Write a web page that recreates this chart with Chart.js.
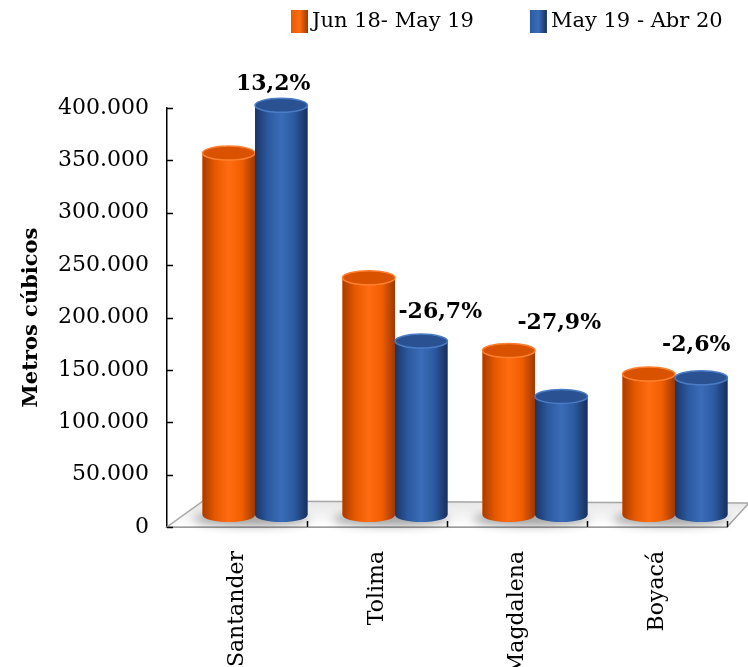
<!DOCTYPE html>
<html>
<head>
<meta charset="utf-8">
<script src="https://cdn.jsdelivr.net/npm/chart.js@4.4.0/dist/chart.umd.min.js"></script>
<style>
html, body { margin: 0; padding: 0; background: #fff; overflow: hidden; }
#wrap { width: 748px; height: 667px; }
</style>
</head>
<body>
<div id="wrap"><canvas id="grafico"></canvas></div>
<script>
const categorias = ['Santander', 'Tolima', 'Magdalena', 'Boyacá']
const serieAnterior = [345500, 226500, 157000, 134500]
const serieActual = [391100, 166000, 113200, 131000]
const variacion = ['13,2%', '-26,7%', '-27,9%', '-2,6%']
const yTicks = [0, 50000, 100000, 150000, 200000, 250000, 300000, 350000, 400000]

// offset of the bars inside the 3D floor
const DX = 18, DY = -12
const FONT = '"DejaVu Serif", serif'
// where each % label sits relative to the blue bar top (px), like the original
const etiquetaDx = [-8, 19, -2, -5]
const etiquetaLift = [10, 18, 62, 21]

const colores = {
  naranja: { solid: '#FF6600', body: ['#A83C00', '#E85A00', '#FF6C12', '#F05E00', '#9E3800'], cap: '#D85200', edge: '#FF8030' },
  azul: { solid: '#2E5DA5', body: ['#1A3566', '#2C5AA0', '#3A6CB8', '#2B5AA0', '#182F5C'], cap: '#2A5293', edge: '#4C7CC6' }
}

const fmt = v => String(v).replace(/\B(?=(\d{3})+(?!\d))/g, '.')

function cilindro(ctx, el, pal){
  const { x, y, base, width } = el.getProps(['x', 'y', 'base', 'width'], true)
  const rx = width / 2, ry = 7
  const l = x - rx, r = x + rx
  const g = ctx.createLinearGradient(l, 0, r, 0)
  pal.body.forEach((c, i) => g.addColorStop(i / (pal.body.length - 1), c))
  ctx.beginPath()
  ctx.moveTo(l, y)
  ctx.lineTo(l, base)
  ctx.ellipse(x, base, rx, ry, 0, Math.PI, 0, true)
  ctx.lineTo(r, y)
  ctx.ellipse(x, y, rx, ry, 0, 0, Math.PI, false)
  ctx.closePath()
  ctx.fillStyle = g
  ctx.fill()
  ctx.beginPath()
  ctx.ellipse(x, y, rx, ry, 0, 0, Math.PI * 2)
  ctx.fillStyle = pal.cap
  ctx.fill()
  ctx.lineWidth = 1.5
  ctx.strokeStyle = pal.edge
  ctx.stroke()
}

const piso3d = {
  id: 'piso3d',
  beforeDatasetsDraw(chart){
    const { ctx, chartArea: a, scales } = chart
    ctx.save()
    // floor
    const g = ctx.createLinearGradient(0, a.bottom - 26, 0, a.bottom)
    g.addColorStop(0, '#e6e6e6')
    g.addColorStop(1, '#ffffff')
    ctx.beginPath()
    ctx.moveTo(a.left, a.bottom)
    ctx.lineTo(a.right, a.bottom)
    ctx.lineTo(a.right + 22, a.bottom - 24)
    ctx.lineTo(a.left + 36, a.bottom - 26)
    ctx.closePath()
    ctx.fillStyle = g
    ctx.fill()
    ctx.strokeStyle = '#a6a6a6'
    ctx.lineWidth = 1.5
    ctx.stroke()
    // shadows
    ctx.filter = 'blur(5px)'
    ctx.fillStyle = 'rgba(0,0,0,0.35)'
    categorias.forEach((c, i) => {
      const cx = scales.x.getPixelForValue(i) + DX
      ctx.beginPath()
      ctx.ellipse(cx - 4, a.bottom + DY + 4, 58, 7, 0, 0, Math.PI * 2)
      ctx.fill()
    })
    ctx.filter = 'none'
    ctx.translate(DX, DY)
  },
  afterDatasetsDraw(chart){
    const { ctx } = chart
    const m0 = chart.getDatasetMeta(0), m1 = chart.getDatasetMeta(1)
    m0.data.forEach(el => cilindro(ctx, el, colores.naranja))
    m1.data.forEach(el => cilindro(ctx, el, colores.azul))
    ctx.fillStyle = '#000'
    ctx.font = 'bold 22px ' + FONT
    ctx.textAlign = 'center'
    ctx.textBaseline = 'bottom'
    m1.data.forEach((el, i) => {
      ctx.fillText(variacion[i], el.x + etiquetaDx[i], el.y - etiquetaLift[i])
    })
    ctx.restore()
  },
  afterDraw(chart){
    const { ctx, chartArea: a, scales } = chart
    ctx.save()
    ctx.strokeStyle = '#000'
    ctx.lineWidth = 1.5
    ctx.beginPath()
    yTicks.forEach(v => {
      const y = Math.round(scales.y.getPixelForValue(v)) + 0.5
      ctx.moveTo(a.left, y)
      ctx.lineTo(a.left + 6, y)
    })
    const n = categorias.length
    for (let k = 1; k <= n; k++){
      const x = Math.round(a.left + k * a.width / n) + 0.5
      ctx.moveTo(x, a.bottom)
      ctx.lineTo(x, a.bottom - 6)
    }
    ctx.stroke()

    // legend at the top right
    ctx.font = '21px ' + FONT
    ctx.textBaseline = 'middle'
    ctx.textAlign = 'left'
    const items = chart.data.datasets.map((d, i) => ({ text: d.label, pal: i === 0 ? colores.naranja : colores.azul }))
    const boxW = 17, gapBox = 4, gapItem = 56
    let x = 291
    items.forEach(it => {
      const g = ctx.createLinearGradient(x, 0, x + boxW, 0)
      g.addColorStop(0, it.pal.body[1])
      g.addColorStop(0.5, it.pal.body[2])
      g.addColorStop(1, it.pal.body[4])
      ctx.fillStyle = g
      ctx.fillRect(x, 10, boxW, 23)
      ctx.fillStyle = '#000'
      ctx.fillText(it.text, x + boxW + gapBox, 22)
      x += boxW + gapBox + ctx.measureText(it.text).width + gapItem
    })
    ctx.restore()
  }
}

new Chart(document.getElementById('grafico'), {
  type: 'bar',
  data: {
    labels: categorias,
    datasets: [
      { label: 'Jun 18- May 19', data: serieAnterior, backgroundColor: colores.naranja.solid, clip: false },
      { label: 'May 19 - Abr 20', data: serieActual, backgroundColor: colores.azul.solid, clip: false }
    ]
  },
  options: {
    responsive: true,
    maintainAspectRatio: false,
    animation: false,
    categoryPercentage: 0.75,
    barPercentage: 1,
    layout: { padding: { left: 0, right: 21, top: 108, bottom: 0 } },
    plugins: {
      legend: { display: false },
      tooltip: { enabled: false }
    },
    scales: {
      x: {
        grid: { display: false },
        border: { display: true, color: '#000', width: 1.5 },
        ticks: {
          font: { family: FONT, size: 22 },
          color: '#000',
          minRotation: 90,
          maxRotation: 90,
          padding: 16
        },
        afterFit(scale){ scale.height = 140 }
      },
      y: {
        min: 0,
        max: 400000,
        afterBuildTicks(scale){ scale.ticks = yTicks.map(v => ({ value: v })) },
        grid: { display: false },
        border: { display: true, color: '#000', width: 1.5 },
        ticks: {
          font: { family: FONT, size: 22 },
          color: '#000',
          padding: 10,
          callback: v => fmt(v)
        },
        title: {
          display: true,
          text: 'Metros cúbicos',
          font: { family: FONT, size: 21, weight: 'bold' },
          color: '#000',
          padding: { top: 19, bottom: 0 }
        },
        afterFit(scale){ scale.width = 167 }
      }
    }
  },
  plugins: [piso3d]
})
</script>
</body>
</html>
